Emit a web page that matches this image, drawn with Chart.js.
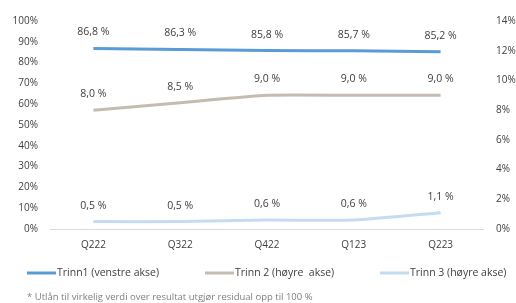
<!DOCTYPE html>
<html>
<head>
<meta charset="utf-8">
<script src="https://cdn.jsdelivr.net/npm/chart.js@4/dist/chart.umd.min.js"></script>
<style>
  html, body { margin: 0; padding: 0; background: #fff; }
  #wrap { width: 516px; height: 303px; }
</style>
</head>
<body>
<div id="wrap"><canvas id="chart"></canvas></div>
<script>
const kvartaler = ['Q222', 'Q322', 'Q422', 'Q123', 'Q223'];
const trinn1 = [86.8, 86.3, 85.8, 85.7, 85.2];
const trinn2 = [8.0, 8.5, 9.0, 9.0, 9.0];
const trinn3 = [0.5, 0.5, 0.6, 0.6, 1.1];
const venstreTicks = [0, 10, 20, 30, 40, 50, 60, 70, 80, 90, 100];
const hoyreTicks = [0, 2, 4, 6, 8, 10, 12, 14];
const fotnote = '* Utlån til virkelig verdi over resultat utgjør residual opp til 100 %';

const FONT = 'Open Sans';
const TEXT = '#404040';

// verdietiketter over punktene
const dataLabels = {
  id: 'dataLabels',
  afterDatasetsDraw(chart) {
    const ctx = chart.ctx;
    ctx.save();
    ctx.font = '10.5px "' + FONT + '"';
    ctx.fillStyle = TEXT;
    ctx.textAlign = 'center';
    ctx.textBaseline = 'middle';
    chart.data.datasets.forEach((ds, i) => {
      chart.getDatasetMeta(i).data.forEach((pt, j) => {
        const txt = ds.data[j].toFixed(1).replace('.', ',') + ' %';
        ctx.fillText(txt, pt.x, pt.y - 16);
      });
    });
    ctx.restore();
  }
};

// tegnforklaring og fotnote under diagrammet
const legendStarts = [27, 205, 380];
const bunnTekst = {
  id: 'bunnTekst',
  afterDraw(chart) {
    const ctx = chart.ctx;
    ctx.save();
    ctx.font = '10.5px "' + FONT + '"';
    ctx.textBaseline = 'middle';
    ctx.textAlign = 'left';
    chart.data.datasets.forEach((ds, i) => {
      const x = legendStarts[i];
      ctx.strokeStyle = ds.borderColor;
      ctx.lineWidth = 3;
      ctx.beginPath();
      ctx.moveTo(x, 273);
      ctx.lineTo(x + 29, 273);
      ctx.stroke();
      ctx.fillStyle = TEXT;
      ctx.fillText(ds.label, x + 30, 273);
    });
    ctx.font = '9.5px "' + FONT + '"';
    ctx.fillStyle = '#7F7F7F';
    ctx.fillText(fotnote, 27, 297);
    ctx.restore();
  }
};

new Chart(document.getElementById('chart'), {
  type: 'line',
  data: {
    labels: kvartaler,
    datasets: [{
      label: 'Trinn1 (venstre akse)',
      data: trinn1,
      yAxisID: 'y',
      borderColor: '#5B9BD5',
      backgroundColor: '#5B9BD5',
      borderWidth: 3,
      pointRadius: 0,
      tension: 0.2
    }, {
      label: 'Trinn 2 (høyre  akse)',
      data: trinn2,
      yAxisID: 'y2',
      borderColor: '#C5BBB0',
      backgroundColor: '#C5BBB0',
      borderWidth: 3,
      pointRadius: 0,
      tension: 0.2
    }, {
      label: 'Trinn 3 (høyre akse)',
      data: trinn3,
      yAxisID: 'y2',
      borderColor: '#C4DBF1',
      backgroundColor: '#C4DBF1',
      borderWidth: 3,
      pointRadius: 0,
      tension: 0.2
    }]
  },
  options: {
    responsive: true,
    maintainAspectRatio: false,
    animation: false,
    layout: { padding: { top: 21, left: 0, right: 0, bottom: 42 } },
    scales: {
      x: {
        offset: true,
        grid: { display: false, drawTicks: false },
        border: { display: false },
        ticks: { color: TEXT, font: { family: FONT, size: 10 }, padding: 10 }
      },
      y: {
        position: 'left',
        min: 0,
        max: 100,
        afterBuildTicks: (s) => { s.ticks = venstreTicks.map(v => ({ value: v })); },
        afterFit: (s) => { s.width = 50; },
        grid: {
          drawTicks: false,
          color: (c) => c.tick.value === 0 ? '#D9D9D9' : 'rgba(0,0,0,0)'
        },
        border: { display: false },
        ticks: {
          color: TEXT, font: { family: FONT, size: 10 }, padding: 12,
          callback: (v) => v + '%'
        }
      },
      y2: {
        position: 'right',
        min: 0,
        max: 14,
        afterBuildTicks: (s) => { s.ticks = hoyreTicks.map(v => ({ value: v })); },
        afterFit: (s) => { s.width = 32; },
        grid: { display: false, drawTicks: false },
        border: { display: false },
        ticks: {
          color: TEXT, font: { family: FONT, size: 10 }, padding: 12,
          callback: (v) => v + '%'
        }
      }
    },
    plugins: {
      legend: { display: false },
      tooltip: { enabled: false }
    }
  },
  plugins: [dataLabels, bunnTekst]
});
</script>
</body>
</html>
